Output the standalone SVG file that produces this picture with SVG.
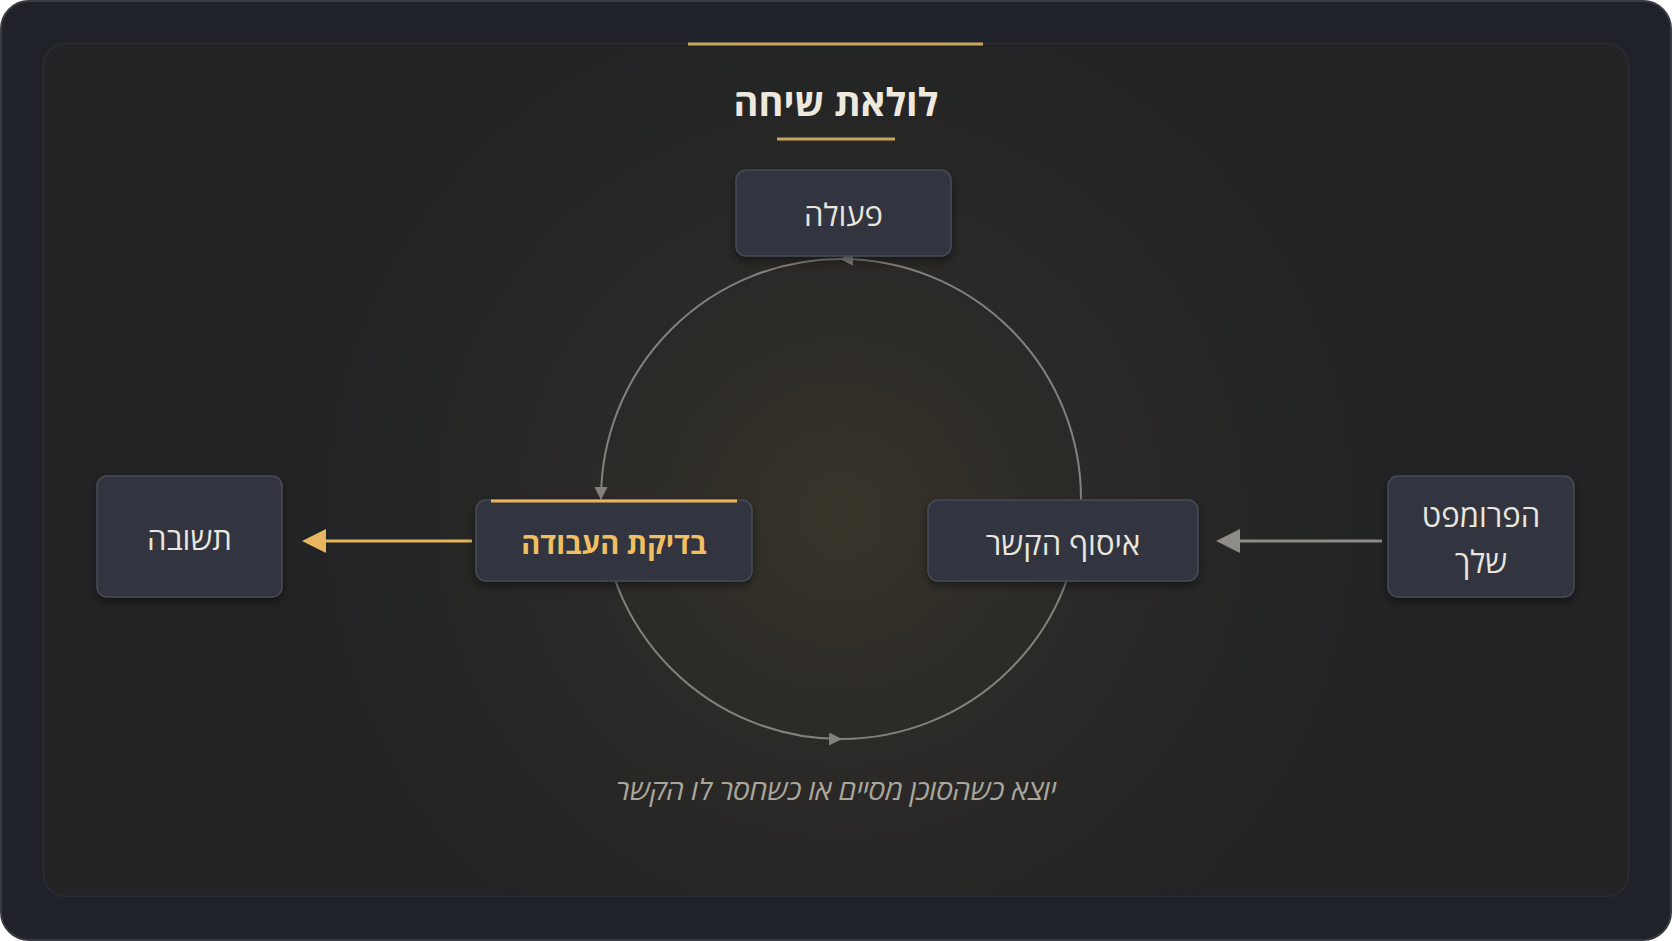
<svg xmlns="http://www.w3.org/2000/svg" width="1672" height="941" viewBox="0 0 1672 941">
<defs>
<style>
.node{fill:#323540;stroke:#474a55;stroke-width:1.5;filter:url(#sh)}
.lbl{font-family:"Open Sans","Noto Sans","DejaVu Sans",sans-serif;font-size:31px;fill:#e9e6de;text-anchor:middle}
.gold{fill:#f0bf62;font-weight:bold;font-size:29px}
.ring{fill:none;stroke:#83817b;stroke-width:2}
</style>
<radialGradient id="glow" cx="841" cy="515" r="520" gradientUnits="userSpaceOnUse">
<stop offset="0" stop-color="#38342a"/>
<stop offset="0.5" stop-color="#2a2927"/>
<stop offset="1" stop-color="#222324"/>
</radialGradient>
<filter id="sh" x="-20%" y="-20%" width="140%" height="150%">
<feDropShadow dx="0" dy="4" stdDeviation="5" flood-color="#000" flood-opacity="0.45"/>
</filter>
<marker id="ah" viewBox="0 0 12 12" refX="11" refY="6" markerWidth="13" markerHeight="13" markerUnits="userSpaceOnUse" orient="auto">
<path d="M0,0 L12,6 L0,12 Z" fill="#83817b"/>
</marker>
</defs>
<rect x="1" y="1" width="1670" height="939" rx="28" fill="#1f2229" stroke="#383b42" stroke-width="2"/>
<rect x="43.5" y="43.5" width="1585" height="853" rx="22" fill="url(#glow)" stroke="#2b2d30" stroke-width="1.5"/>
<line x1="688" y1="44" x2="983" y2="44" stroke="#c9a55c" stroke-width="3"/>
<text x="836" y="116" class="lbl" style="font-size:38px;font-weight:bold;fill:#ede9df">לולאת שיחה</text>
<line x1="777" y1="139" x2="895" y2="139" stroke="#c9a55c" stroke-width="3"/>

<g id="connectors">
<path class="ring" d="M1081,499 A240,240 0 0 0 841,259" marker-end="url(#ah)"/>
<path class="ring" d="M841,259 A240,240 0 0 0 601,499" marker-end="url(#ah)"/>
<path class="ring" d="M601,499 A240,240 0 0 0 841,739" marker-end="url(#ah)"/>
<path class="ring" d="M841,739 A240,240 0 0 0 1081,499"/>
<line x1="1382" y1="541" x2="1238" y2="541" stroke="#8e8c86" stroke-width="3"/>
<path d="M1216,541 L1240,529 L1240,553 Z" fill="#8e8c86"/>
<line x1="472" y1="541" x2="324" y2="541" stroke="#e3b45c" stroke-width="3"/>
<path d="M302,541 L326,529 L326,553 Z" fill="#e8b65e"/>
</g>

<g id="node-action">
<rect class="node" x="736" y="170" width="215" height="86" rx="10"/>
<text class="lbl" x="843.5" y="226">פעולה</text>
</g>
<g id="node-answer">
<rect class="node" x="97" y="476" width="185" height="121" rx="10"/>
<text class="lbl" x="189.5" y="550">תשובה</text>
</g>
<g id="node-check">
<rect class="node" x="476" y="500" width="276" height="81" rx="10"/>
<line x1="491" y1="501" x2="737" y2="501" stroke="#e8b65e" stroke-width="3"/>
<text class="lbl gold" x="614" y="554">בדיקת העבודה</text>
</g>
<g id="node-context">
<rect class="node" x="928" y="500" width="270" height="81" rx="10"/>
<text class="lbl" x="1063" y="555">איסוף הקשר</text>
</g>
<g id="node-prompt">
<rect class="node" x="1388" y="476" width="186" height="121" rx="10"/>
<text class="lbl" x="1481" y="527">הפרומפט</text>
<text class="lbl" x="1481" y="573">שלך</text>
</g>
<text class="lbl" x="836" y="800" style="font-size:28.5px;font-style:italic;fill:#aaa69c">יוצא כשהסוכן מסיים או כשחסר לו הקשר</text>
</svg>
